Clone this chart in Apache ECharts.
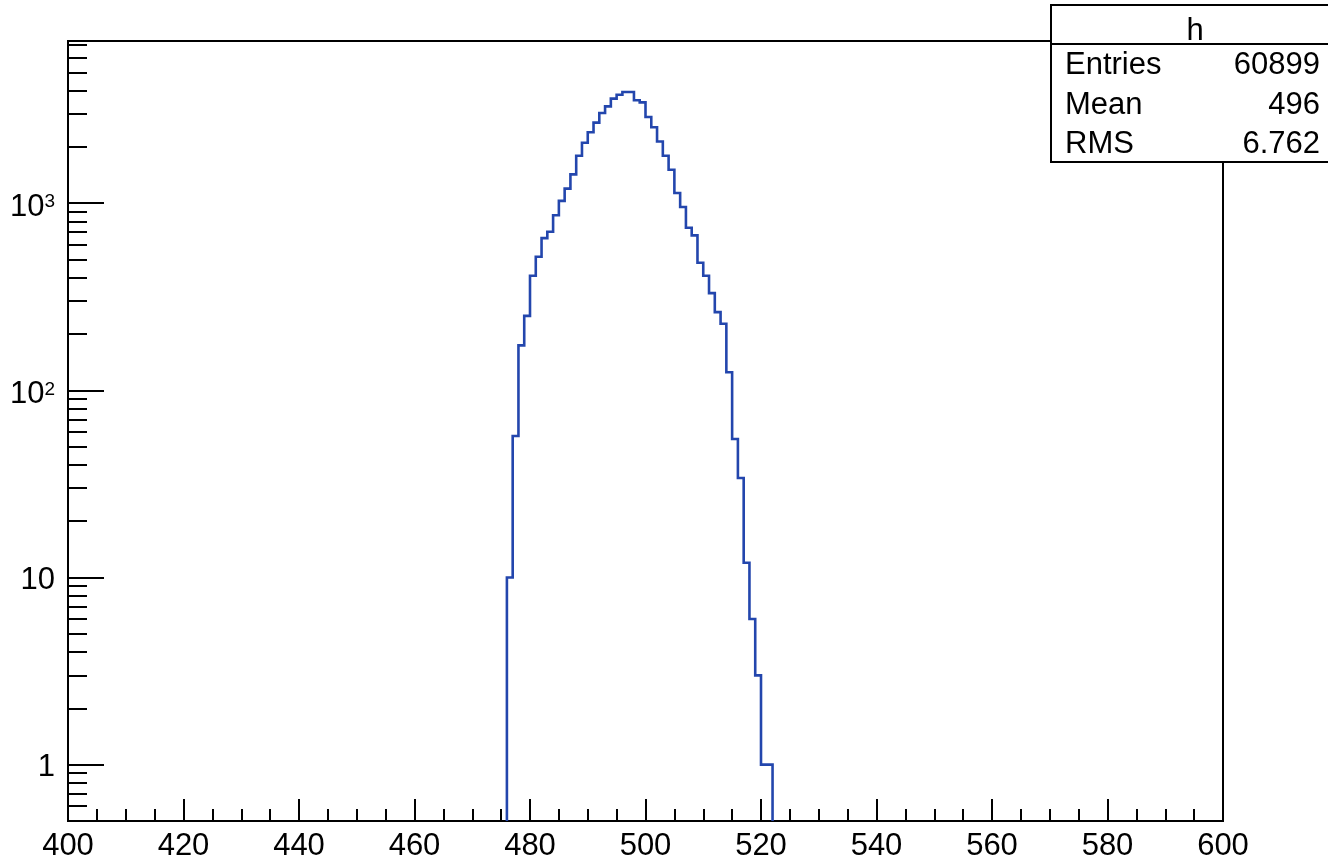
<!DOCTYPE html>
<html>
<head>
<meta charset="utf-8">
<title>h</title>
<script src="https://cdn.jsdelivr.net/npm/echarts@6/dist/echarts.min.js"></script>
<style>
  html, body { margin: 0; padding: 0; background: #fff; }
  #chart { width: 1328px; height: 862px; }
</style>
</head>
<body>
<div id="chart"></div>
<script>
// Histogram "h": unit-width bins starting at 476
const binStart = 476;
const binWidth = 1;
const counts = [
  10, 57, 174, 250, 410, 518, 651, 704, 863, 1029,
  1197, 1426, 1795, 2104, 2397, 2697, 3035, 3294, 3622, 3802,
  3930, 3930, 3548, 3459, 2890, 2545, 2136, 1795, 1511, 1135,
  955, 739, 673, 481, 410, 331, 262, 227, 125, 55,
  34, 12, 6, 3, 1, 1
];

// Axis ranges
const xRange = [400, 600];
const yRange = [0.5, 7360];
const yMajorTicks = [1, 10, 100, 1000];
const yMinorTicks = [0.6, 0.7, 0.8, 0.9,
  2, 3, 4, 5, 6, 7, 8, 9,
  20, 30, 40, 50, 60, 70, 80, 90,
  200, 300, 400, 500, 600, 700, 800, 900,
  2000, 3000, 4000, 5000, 6000, 7000];

// Statistics box
const statsTitle = 'h';
const statsNames = ['Entries', 'Mean', 'RMS'];
const statsValues = ['60899', '496', '6.762'];

const FONT = '"Liberation Sans", Arial, Helvetica, sans-serif';
const LINE_COLOR = '#2346ad';

// Outline of the histogram: a step path over the bin edges,
// starting and ending on the bottom of the frame.
const outline = [[binStart, yRange[0]]];
counts.forEach((c, i) => {
  const lo = binStart + i * binWidth;
  outline.push([lo, c], [lo + binWidth, c]);
});
outline.push([binStart + counts.length * binWidth, yRange[0]]);

function powerLabel(v) {
  const e = Math.round(Math.log10(v));
  if (e === 0) return '1';
  if (e === 1) return '10';
  return '{b|10}{s|' + e + '}';
}

const chart = echarts.init(document.getElementById('chart'), null, { renderer: 'canvas' });

const boxLeft = 1051, boxTop = 5, boxRight = 1339, boxBottom = 162, headerY = 44;
const rowY = [65.5, 105, 144];

const statsGraphics = [
  {
    type: 'rect', z: 100,
    shape: { x: boxLeft, y: boxTop, width: boxRight - boxLeft, height: boxBottom - boxTop },
    style: { fill: '#fff', stroke: '#000', lineWidth: 2 }
  },
  {
    type: 'line', z: 101,
    shape: { x1: boxLeft, y1: headerY, x2: boxRight, y2: headerY },
    style: { stroke: '#000', lineWidth: 2 }
  },
  {
    type: 'text', z: 102, x: (boxLeft + boxRight) / 2, y: 31,
    style: { text: statsTitle, font: '31px ' + FONT, fill: '#000', align: 'center', verticalAlign: 'middle' }
  }
];
statsNames.forEach((name, i) => {
  statsGraphics.push({
    type: 'text', z: 102, x: 1065, y: rowY[i],
    style: { text: name, font: '31px ' + FONT, fill: '#000', align: 'left', verticalAlign: 'middle' }
  });
  statsGraphics.push({
    type: 'text', z: 102, x: 1320, y: rowY[i],
    style: { text: statsValues[i], font: '31px ' + FONT, fill: '#000', align: 'right', verticalAlign: 'middle' }
  });
});

const option = {
  animation: false,
  backgroundColor: '#fff',
  grid: {
    left: 68, top: 41, width: 1155, height: 782,
    show: true, borderColor: '#000', borderWidth: 2, backgroundColor: 'transparent'
  },
  xAxis: {
    type: 'value',
    min: xRange[0], max: xRange[1], interval: 20,
    splitLine: { show: false },
    axisLine: { show: true, onZero: false, lineStyle: { color: '#000', width: 2 } },
    axisTick: { show: true, inside: true, length: 22, lineStyle: { color: '#000', width: 2 } },
    minorTick: { show: true, splitNumber: 4, length: 12, lineStyle: { color: '#000', width: 2 } },
    minorSplitLine: { show: false },
    axisLabel: { color: '#000', fontFamily: FONT, fontSize: 31, margin: 10 }
  },
  yAxis: [
    {
      type: 'log', logBase: 10,
      min: yRange[0], max: yRange[1],
      splitLine: { show: false },
      axisLine: { show: true, lineStyle: { color: '#000', width: 2 } },
      axisTick: {
        show: true, inside: true, length: 36,
        customValues: yMajorTicks,
        lineStyle: { color: '#000', width: 2 }
      },
      axisLabel: {
        color: '#000', fontFamily: FONT, fontSize: 31, margin: 13,
        padding: [6, 0, 0, 0],
        customValues: yMajorTicks,
        formatter: powerLabel,
        rich: {
          b: { fontFamily: FONT, fontSize: 31, lineHeight: 31, color: '#000', padding: [2, 0, 0, 0] },
          s: { fontFamily: FONT, fontSize: 19, lineHeight: 19, color: '#000', verticalAlign: 'top', padding: [2, 0, 0, 0] }
        }
      }
    },
    {
      type: 'log', logBase: 10,
      min: yRange[0], max: yRange[1],
      position: 'left',
      splitLine: { show: false },
      axisLine: { show: false },
      axisLabel: { show: false },
      axisTick: {
        show: true, inside: true, length: 19,
        customValues: yMinorTicks,
        lineStyle: { color: '#000', width: 2 }
      }
    }
  ],
  series: [
    {
      type: 'line',
      yAxisIndex: 0,
      data: outline,
      showSymbol: false,
      symbol: 'none',
      clip: true,
      lineStyle: { color: LINE_COLOR, width: 2.6, join: 'miter' },
      z: 5
    }
  ],
  graphic: statsGraphics
};

chart.setOption(option);
</script>
</body>
</html>
